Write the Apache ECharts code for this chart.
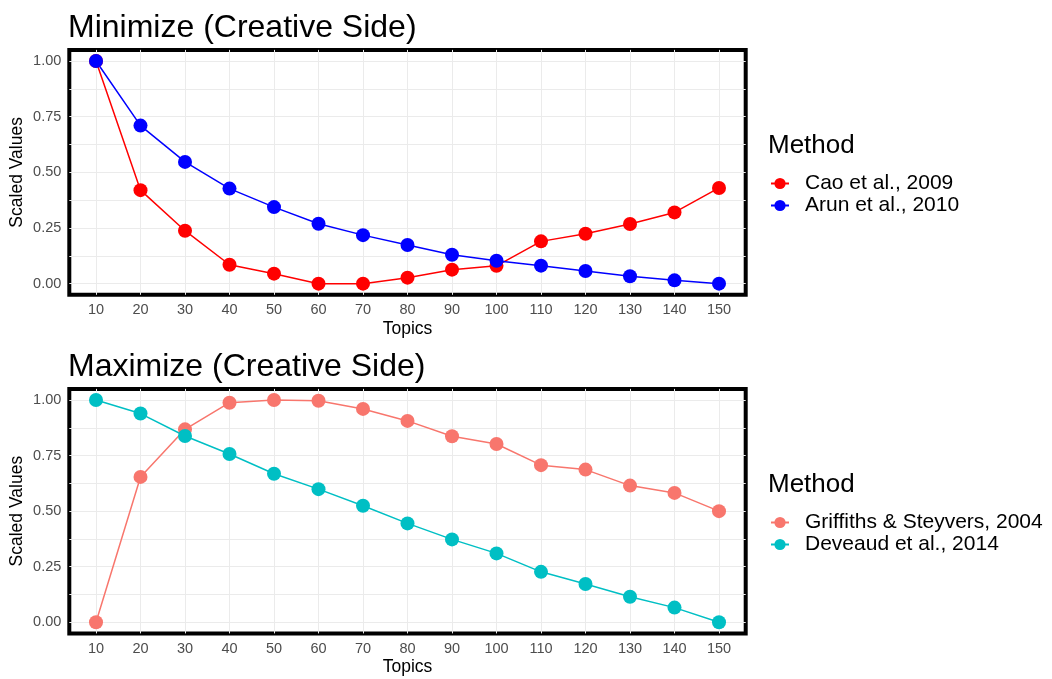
<!DOCTYPE html>
<html>
<head>
<meta charset="utf-8">
<script src="https://cdn.jsdelivr.net/npm/echarts@6/dist/echarts.min.js"></script>
<style>html,body{margin:0;padding:0;background:#fff;}#c{width:1052px;height:679px;}</style>
</head>
<body>
<div id="c"></div>
<script>
const topics = [10,20,30,40,50,60,70,80,90,100,110,120,130,140,150];
const yTicks = [0,0.25,0.5,0.75,1];
const yGrid = [0,0.125,0.25,0.375,0.5,0.625,0.75,0.875,1];
const cao = [1.00,0.42,0.238,0.085,0.045,0.0,0.0,0.027,0.063,0.08,0.19,0.224,0.268,0.32,0.43];
const arun = [1.00,0.71,0.547,0.427,0.344,0.269,0.218,0.174,0.13,0.103,0.081,0.057,0.033,0.015,0.0];
const griffiths = [0.0,0.654,0.868,0.988,1.0,0.997,0.96,0.906,0.837,0.802,0.707,0.687,0.615,0.582,0.50];
const deveaud = [1.0,0.939,0.838,0.757,0.668,0.599,0.524,0.445,0.373,0.31,0.227,0.172,0.115,0.066,0.0];
const names = ['Cao et al., 2009','Arun et al., 2010','Griffiths & Steyvers, 2004','Deveaud et al., 2014'];
const colors = ['#FF0000','#0000FF','#F8766D','#00BFC4'];
const titles = ['Minimize (Creative Side)','Maximize (Creative Side)'];

const FONT = 'Liberation Sans, Arial, Helvetica, sans-serif';
const chart = echarts.init(document.getElementById('c'));

function xAxis(gi){
  return {
    type:'value', gridIndex:gi, min:4, max:156,
    name:'Topics', nameLocation:'middle', nameGap:25, nameMoveOverlap:false,
    nameTextStyle:{color:'#000', fontSize:17.5, fontFamily:FONT},
    axisLine:{show:false}, axisTick:{show:false, customValues:topics},
    axisLabel:{customValues:topics, color:'#4D4D4D', fontSize:14.5, fontFamily:FONT, margin:8},
    splitLine:{show:true, lineStyle:{color:'#EBEBEB', width:1}}
  };
}
function yAxis(gi){
  return {
    type:'value', gridIndex:gi, min:-0.05, max:1.05,
    name:'Scaled Values', nameLocation:'middle', nameGap:43, nameMoveOverlap:false,
    nameTextStyle:{color:'#000', fontSize:17.5, fontFamily:FONT},
    axisLine:{show:false}, axisTick:{show:false, customValues:yGrid},
    axisLabel:{customValues:yTicks, color:'#4D4D4D', fontSize:14.5, fontFamily:FONT, margin:8,
      formatter:v=>Number(v).toFixed(2)},
    splitLine:{show:true, lineStyle:{color:'#EBEBEB', width:1}}
  };
}
function series(idx, vals, gi){
  return {
    type:'line', name:names[idx], xAxisIndex:gi, yAxisIndex:gi,
    data: topics.map((t,i)=>[t, vals[i]]),
    symbol:'circle', symbolSize:14, showSymbol:true,
    lineStyle:{color:colors[idx], width:1.5},
    itemStyle:{color:colors[idx]},
    emphasis:{disabled:true}, animation:false
  };
}
function legend(gi, items, top){
  return {
    data:items, orient:'vertical', left:765, top:top, itemWidth:18, itemHeight:14, itemGap:1,
    textStyle:{color:'#000', fontSize:21, fontFamily:FONT, padding:[0,0,0,11]},
    selectedMode:false
  };
}
chart.setOption({
  animation:false,
  title:[
    {text:titles[0], left:63, top:7, textStyle:{fontSize:32, fontWeight:'normal', color:'#000', fontFamily:FONT}},
    {text:titles[1], left:63, top:346, textStyle:{fontSize:32, fontWeight:'normal', color:'#000', fontFamily:FONT}},
    {text:'Method', left:763, top:128, textStyle:{fontSize:26, fontWeight:'normal', color:'#000', fontFamily:FONT}},
    {text:'Method', left:763, top:467, textStyle:{fontSize:26, fontWeight:'normal', color:'#000', fontFamily:FONT}}
  ],
  grid:[
    {left:69.3, width:676.4, top:49.9, height:244.9, show:true, borderColor:'#000', borderWidth:4, backgroundColor:'transparent', outerBoundsMode:'none', containLabel:false},
    {left:69.3, width:676.4, top:388.9, height:244.5, show:true, borderColor:'#000', borderWidth:4, backgroundColor:'transparent', outerBoundsMode:'none', containLabel:false}
  ],
  xAxis:[xAxis(0), xAxis(1)],
  yAxis:[yAxis(0), yAxis(1)],
  legend:[legend(0,[names[0],names[1]],168), legend(1,[names[2],names[3]],507)],
  series:[series(0,cao,0), series(1,arun,0), series(2,griffiths,1), series(3,deveaud,1)]
});
</script>
</body>
</html>
